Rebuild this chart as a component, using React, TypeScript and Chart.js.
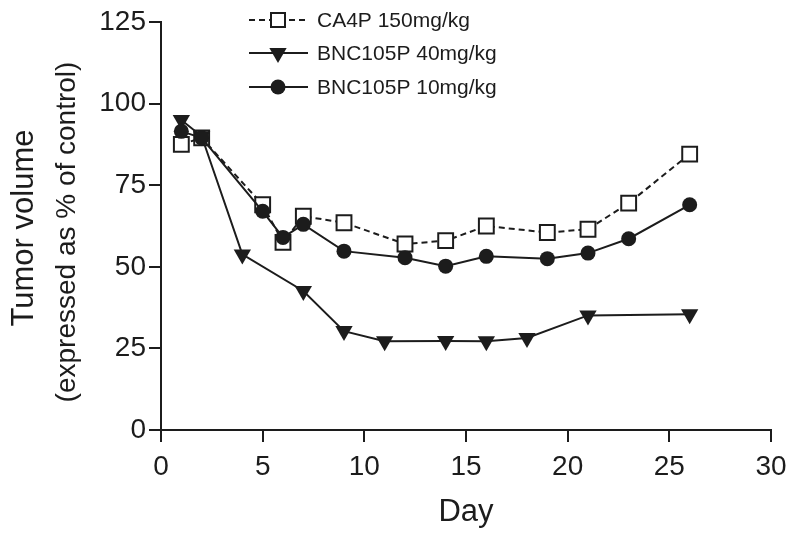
import React, { useEffect, useRef } from "react";
import { Chart, registerables } from "chart.js";

Chart.register(...registerables);

const seriesNames = ["CA4P 150mg/kg", "BNC105P 40mg/kg", "BNC105P 10mg/kg"];
const daysCA4P = [1, 2, 5, 6, 7, 9, 12, 14, 16, 19, 21, 23, 26];
const valuesCA4P = [87.5, 89.5, 69, 57.5, 65.5, 63.5, 57, 58, 62.5, 60.5, 61.5, 69.5, 84.5];
const daysBNC40 = [1, 2, 4, 7, 9, 11, 14, 16, 18, 21, 26];
const valuesBNC40 = [95, 90, 53.8, 42.6, 30.3, 27.2, 27.3, 27.2, 28.2, 35.1, 35.5];
const daysBNC10 = [1, 2, 5, 6, 7, 9, 12, 14, 16, 19, 21, 23, 26];
const valuesBNC10 = [91.5, 89.5, 67, 59, 63, 54.8, 52.8, 50.2, 53.2, 52.5, 54.2, 58.6, 69];
const xTicks = [0, 5, 10, 15, 20, 25, 30];
const yTicks = [0, 25, 50, 75, 100, 125];
const xTitle = "Day";
const yTitleLines = ["Tumor volume", "(expressed as % of control)"];

const FONT = '"Liberation Sans", Arial, Helvetica, sans-serif';
const INK = "#1c1c1c";

const toPoints = (xs: number[], ys: number[]) => xs.map((x, i) => ({ x, y: ys[i] }));

function drawMarker(ctx: CanvasRenderingContext2D, kind: string, x: number, y: number) {
  ctx.save();
  ctx.lineWidth = 2;
  ctx.strokeStyle = INK;
  ctx.fillStyle = INK;
  ctx.setLineDash([]);
  if (kind === "rect") {
    ctx.fillStyle = "#ffffff";
    ctx.fillRect(x - 7, y - 7, 14, 14);
    ctx.strokeRect(x - 7, y - 7, 14, 14);
  } else if (kind === "triangle") {
    const r = 10;
    ctx.beginPath();
    ctx.moveTo(x, y + r);
    ctx.lineTo(x - r * 0.866, y - r / 2);
    ctx.lineTo(x + r * 0.866, y - r / 2);
    ctx.closePath();
    ctx.fill();
  } else {
    ctx.beginPath();
    ctx.arc(x, y, 7.5, 0, Math.PI * 2);
    ctx.fill();
  }
  ctx.restore();
}

const textPlugin = {
  id: "customText",
  afterDraw(chart: any) {
    const ctx: CanvasRenderingContext2D = chart.ctx;
    const area = chart.chartArea;
    ctx.save();
    ctx.fillStyle = INK;
    // legend
    const kinds = ["rect", "triangle", "circle"];
    const dashes = [[6, 4], [], []];
    const rows = [20, 53, 87];
    ctx.font = `21px ${FONT}`;
    ctx.textBaseline = "middle";
    ctx.textAlign = "left";
    rows.forEach((ry, i) => {
      ctx.save();
      ctx.strokeStyle = INK;
      ctx.lineWidth = 2;
      ctx.setLineDash(dashes[i]);
      ctx.beginPath();
      ctx.moveTo(249, ry);
      ctx.lineTo(308, ry);
      ctx.stroke();
      ctx.restore();
      drawMarker(ctx, kinds[i], 278, ry);
      ctx.fillText(seriesNames[i], 317, ry + 1);
    });
    // x title
    ctx.font = `31px ${FONT}`;
    ctx.textAlign = "center";
    ctx.textBaseline = "middle";
    ctx.fillText(xTitle, (area.left + area.right) / 2, 512);
    // y title
    ctx.save();
    ctx.translate(24, 228);
    ctx.rotate(-Math.PI / 2);
    ctx.font = `31px ${FONT}`;
    ctx.fillText(yTitleLines[0], 0, 0);
    ctx.restore();
    ctx.save();
    ctx.translate(67, 232);
    ctx.rotate(-Math.PI / 2);
    ctx.font = `28px ${FONT}`;
    ctx.fillText(yTitleLines[1], 0, 0);
    ctx.restore();
    ctx.restore();
  },
};

export default function App() {
  const ref = useRef<HTMLCanvasElement | null>(null);
  useEffect(() => {
    if (!ref.current) return;
    const axisCommon = {
      grid: {
        display: true,
        drawOnChartArea: false,
        drawTicks: true,
        tickLength: 12,
        color: INK,
        lineWidth: 2,
      },
      border: { display: true, color: INK, width: 2 },
    };
    const chart = new Chart(ref.current, {
      type: "line",
      data: {
        datasets: [
          {
            label: seriesNames[0],
            data: toPoints(daysCA4P, valuesCA4P),
            borderColor: INK,
            backgroundColor: "#ffffff",
            borderWidth: 2,
            borderDash: [6, 4],
            pointStyle: "rect",
            pointRadius: 10.5,
            pointBorderWidth: 2,
            pointBorderColor: INK,
            pointBackgroundColor: "#ffffff",
            order: 3,
          },
          {
            label: seriesNames[1],
            data: toPoints(daysBNC40, valuesBNC40),
            borderColor: INK,
            backgroundColor: INK,
            borderWidth: 2,
            pointStyle: "triangle",
            rotation: 180,
            pointRadius: 10,
            pointBorderWidth: 0,
            order: 2,
          },
          {
            label: seriesNames[2],
            data: toPoints(daysBNC10, valuesBNC10),
            borderColor: INK,
            backgroundColor: INK,
            borderWidth: 2,
            pointStyle: "circle",
            pointRadius: 7.5,
            pointBorderWidth: 0,
            order: 1,
          },
        ],
      },
      options: {
        responsive: false,
        animation: false,
        devicePixelRatio: 1,
        layout: { padding: { top: 22, right: 29, left: 0, bottom: 0 } },
        plugins: { legend: { display: false }, tooltip: { enabled: false } },
        elements: { line: { tension: 0 } },
        scales: {
          x: {
            type: "linear",
            min: 0,
            max: 30,
            afterBuildTicks: (s: any) => {
              s.ticks = xTicks.map((v) => ({ value: v }));
            },
            afterFit: (s: any) => {
              s.height = 108;
            },
            ...axisCommon,
            ticks: {
              color: INK,
              font: { family: FONT, size: 28 },
              padding: 8,
              maxRotation: 0,
              autoSkip: false,
            },
          },
          y: {
            type: "linear",
            min: 0,
            max: 125,
            afterBuildTicks: (s: any) => {
              s.ticks = yTicks.map((v) => ({ value: v }));
            },
            afterFit: (s: any) => {
              s.width = 161;
            },
            ...axisCommon,
            ticks: {
              color: INK,
              font: { family: FONT, size: 28 },
              padding: 3,
              autoSkip: false,
            },
          },
        },
      },
      plugins: [textPlugin],
    } as any);
    return () => chart.destroy();
  }, []);
  return (
    <div style={{ position: "fixed", left: 0, top: 0, width: 800, height: 538, background: "#fff" }}>
      <canvas ref={ref} width={800} height={538} style={{ display: "block", width: 800, height: 538 }} />
    </div>
  );
}
